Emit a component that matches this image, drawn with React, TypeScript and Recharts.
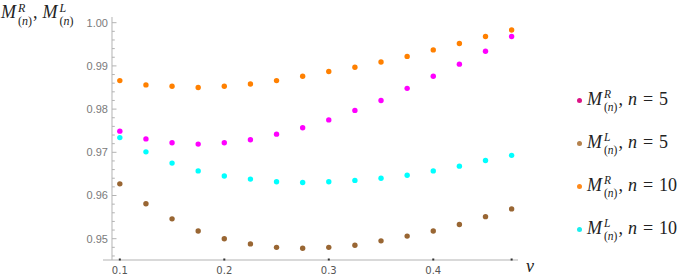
import React from 'react';
import { ScatterChart, Scatter, XAxis, YAxis, ReferenceLine } from 'recharts';

// ---- data ----
const vValues = [0.1, 0.125, 0.15, 0.175, 0.2, 0.225, 0.25, 0.275, 0.3, 0.325, 0.35, 0.375, 0.4, 0.425, 0.45, 0.475];
const mR5 = [0.9749, 0.9731, 0.9722, 0.9719, 0.9722, 0.9729, 0.9742, 0.9757, 0.9775, 0.9797, 0.982, 0.9848, 0.9876, 0.9904, 0.9934, 0.9968];
const mL5 = [0.9627, 0.9581, 0.9546, 0.9518, 0.95, 0.9488, 0.948, 0.9478, 0.948, 0.9485, 0.9495, 0.9506, 0.9518, 0.9533, 0.9551, 0.9569];
const mR10 = [0.9866, 0.9856, 0.9853, 0.985, 0.9853, 0.9858, 0.9866, 0.9876, 0.9887, 0.9897, 0.9909, 0.9922, 0.9937, 0.9952, 0.9968, 0.9983];
const mL10 = [0.9734, 0.9701, 0.9675, 0.9657, 0.9645, 0.9638, 0.9632, 0.963, 0.9632, 0.9635, 0.964, 0.9647, 0.9657, 0.9668, 0.9681, 0.9693];

const xTickLabels = [0.1, 0.2, 0.3, 0.4];
const xTickMarks = [0.1, 0.2, 0.3, 0.4, 0.475];
const yMajorTicks = [0.95, 0.96, 0.97, 0.98, 0.99, 1.0];
const yMinorTicks = [0.946, 0.948, 0.952, 0.954, 0.956, 0.958, 0.962, 0.964, 0.966, 0.968, 0.972, 0.974, 0.976, 0.978, 0.982, 0.984, 0.986, 0.988, 0.992, 0.994, 0.996, 0.998];

const seriesDefs = [
  { name: 'R5', values: mR5, color: '#ff00ff', legendColor: '#dc1486', sup: 'R', n: '5' },
  { name: 'L5', values: mL5, color: '#996633', legendColor: '#b5824d', sup: 'L', n: '5' },
  { name: 'R10', values: mR10, color: '#ff8000', legendColor: '#ff8a1a', sup: 'R', n: '10' },
  { name: 'L10', values: mL10, color: '#00ffff', legendColor: '#1aeeee', sup: 'L', n: '10' },
];

// ---- layout ----
const W = 685;
const H = 275;
const MARGIN = { top: 17, right: 167, bottom: 0, left: 0 };
const Y_AXIS_W = 103;
const X_AXIS_H = 15;
const X_DOMAIN: [number, number] = [0.0839, 0.4811];
const Y_DOMAIN: [number, number] = [0.94507, 1.00132];
const Y_AXIS_AT = 0.0925;
const PLOT_LEFT = MARGIN.left + Y_AXIS_W;
const PLOT_W = W - MARGIN.left - MARGIN.right - Y_AXIS_W;
const Y_AXIS_PX = PLOT_LEFT + ((Y_AXIS_AT - X_DOMAIN[0]) / (X_DOMAIN[1] - X_DOMAIN[0])) * PLOT_W;

const AXIS_COLOR = '#b3b3b3';
const SERIF = '"Liberation Serif", serif';

const allYTicks = [...yMajorTicks, ...yMinorTicks].sort((a, b) => a - b);

const YTick = (props: any) => {
  const { y, payload } = props;
  const v = payload.value as number;
  const major = yMajorTicks.some((t) => Math.abs(t - v) < 1e-9);
  return (
    <g>
      <line x1={Y_AXIS_PX} x2={Y_AXIS_PX + (major ? 4.5 : 2.8)} y1={y} y2={y} stroke={AXIS_COLOR} strokeWidth={1} />
      {major && (
        <text x={Y_AXIS_PX - 4} y={y} dy="0.36em" textAnchor="end" fill="#7a7a7a" fontSize={11} fontFamily="Liberation Sans, Arial, sans-serif">
          {v.toFixed(2)}
        </text>
      )}
    </g>
  );
};

const XTick = (props: any) => {
  const { x, y, payload } = props;
  const v = payload.value as number;
  const labeled = xTickLabels.some((t) => Math.abs(t - v) < 1e-9);
  return (
    <g>
      <rect x={x - 1} y={y - 1.5} width={2} height={2} fill="#333" />
      {labeled && (
        <text x={x} y={y + 14} textAnchor="middle" fill="#555" fontSize={10} fontFamily="DejaVu Sans, sans-serif">
          {String(v)}
        </text>
      )}
    </g>
  );
};

const dot = (color: string) => (props: any) => <circle cx={props.cx} cy={props.cy} r={2.7} fill={color} />;

const MLabel = ({ sup, scriptSize }: { sup: string; scriptSize: number }) => (
  <span style={{ display: 'inline-flex', alignItems: 'flex-start', fontFamily: SERIF }}>
    <i style={{ letterSpacing: 1 }}>M</i>
    <span
      style={{
        display: 'inline-flex',
        flexDirection: 'column',
        fontSize: scriptSize,
        lineHeight: `${scriptSize}px`,
        marginLeft: 1,
        marginTop: -1,
      }}
    >
      <i>{sup}</i>
      <span style={{ marginTop: 1 }}>
        (<i>n</i>)
      </span>
    </span>
  </span>
);

export default function App() {
  const seriesData = seriesDefs.map((s) => ({
    ...s,
    data: vValues.map((v, i) => ({ v, m: s.values[i] })),
  }));

  return (
    <div style={{ position: 'absolute', left: 0, top: 0, width: W, height: H, background: '#fff', overflow: 'hidden' }}>
      <ScatterChart width={W} height={H} margin={MARGIN}>
        <XAxis
          type="number"
          dataKey="v"
          domain={X_DOMAIN}
          allowDataOverflow
          ticks={xTickMarks}
          tick={<XTick />}
          tickLine={false}
          tickSize={0}
          tickMargin={0}
          height={X_AXIS_H}
          axisLine={{ stroke: AXIS_COLOR }}
          interval={0}
        />
        <YAxis
          type="number"
          dataKey="m"
          domain={Y_DOMAIN}
          allowDataOverflow
          ticks={allYTicks}
          tick={<YTick />}
          tickLine={false}
          tickSize={0}
          tickMargin={0}
          width={Y_AXIS_W}
          axisLine={false}
          interval={0}
        />
        <ReferenceLine x={Y_AXIS_AT} stroke={AXIS_COLOR} strokeWidth={1} />
        {seriesData.map((s) => (
          <Scatter key={s.name} name={s.name} data={s.data} fill={s.color} shape={dot(s.color)} isAnimationActive={false} />
        ))}
      </ScatterChart>

      {/* top-left axis label */}
      <div style={{ position: 'absolute', left: 1, top: 3, fontFamily: SERIF, fontSize: 18, lineHeight: '18px', whiteSpace: 'nowrap', display: 'flex', alignItems: 'flex-start', color: '#222' }}>
        <MLabel sup="R" scriptSize={12} />
        <span style={{ marginLeft: 1, marginRight: 5 }}>,</span>
        <MLabel sup="L" scriptSize={12} />
      </div>

      {/* x-axis label */}
      <div style={{ position: 'absolute', left: 526, top: 256, fontFamily: SERIF, fontSize: 18, fontStyle: 'italic', color: '#222' }}>v</div>

      {/* legend */}
      {seriesDefs.map((s, i) => (
        <div
          key={s.name}
          style={{
            position: 'absolute',
            left: 577,
            top: 90 + i * 43,
            display: 'flex',
            alignItems: 'flex-start',
            fontFamily: SERIF,
            fontSize: 18,
            lineHeight: '18px',
            whiteSpace: 'nowrap',
            color: '#222',
          }}
        >
          <span style={{ width: 5, height: 5, borderRadius: '50%', background: s.legendColor, marginTop: 8, marginRight: 5 }} />
          <MLabel sup={s.sup} scriptSize={11.5} />
          <span style={{ marginLeft: 1 }}>,</span>
          <i style={{ marginLeft: 5 }}>n</i>
          <span style={{ marginLeft: 6 }}>=</span>
          <span style={{ marginLeft: 6 }}>{s.n}</span>
        </div>
      ))}
    </div>
  );
}
